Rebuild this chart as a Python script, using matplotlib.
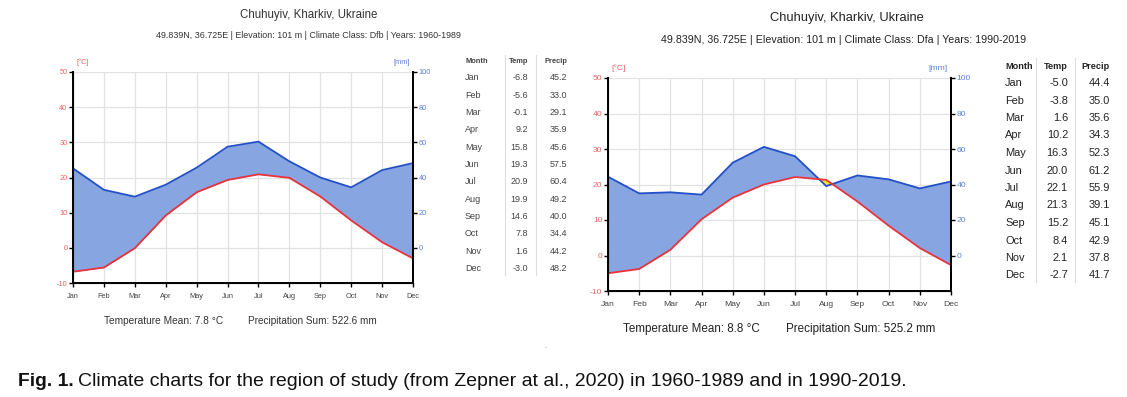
import numpy as np
import matplotlib
matplotlib.use('Agg')
import matplotlib.pyplot as plt

plt.rcParams['font.family'] = ['Liberation Sans', 'DejaVu Sans']
plt.rcParams['axes.unicode_minus'] = False

months = ['Jan', 'Feb', 'Mar', 'Apr', 'May', 'Jun', 'Jul', 'Aug', 'Sep', 'Oct', 'Nov', 'Dec']
temp_1960 = [-6.8, -5.6, -0.1, 9.2, 15.8, 19.3, 20.9, 19.9, 14.6, 7.8, 1.6, -3.0]
precip_1960 = [45.2, 33.0, 29.1, 35.9, 45.6, 57.5, 60.4, 49.2, 40.0, 34.4, 44.2, 48.2]
temp_1990 = [-5.0, -3.8, 1.6, 10.2, 16.3, 20.0, 22.1, 21.3, 15.2, 8.4, 2.1, -2.7]
precip_1990 = [44.4, 35.0, 35.6, 34.3, 52.3, 61.2, 55.9, 39.1, 45.1, 42.9, 37.8, 41.7]

W, H = 1127, 397
FILL_BLUE = '#86a5e1'
LINE_BLUE = '#2350c6'
LINE_RED = '#e8323c'
TICK_RED = '#ec6464'
TICK_BLUE = '#5a80d8'


def px(x, y):
    return x / W, 1 - y / H


def climate_chart(fig, box, temp, precip, s):
    # box = (left, top, right, bottom) in pixels; s = font scale
    l, t, r, b = box
    ax = fig.add_axes([l / W, 1 - b / H, (r - l) / W, (b - t) / H])
    x = np.arange(12)
    temp = np.array(temp)
    p2 = np.array(precip) / 2.0   # 0..100 mm drawn on the 0..50 °C scale
    ax.fill_between(x, temp, p2, where=p2 >= temp, interpolate=True, color=FILL_BLUE, lw=0)
    ax.fill_between(x, temp, p2, where=p2 < temp, interpolate=True, color='#f2e02c', lw=0)
    ax.plot(x, p2, color=LINE_BLUE, lw=1.3, zorder=3)
    ax.plot(x, temp, color=LINE_RED, lw=1.3, zorder=3)
    ax.set_xlim(0, 11)
    ax.set_ylim(-10, 50)
    ax.set_xticks(x)
    ax.set_xticklabels(months, fontsize=5.3 * s, color='#444444')
    ax.set_yticks(range(-10, 51, 10))
    ax.tick_params(axis='y', labelsize=5.3 * s, labelcolor=TICK_RED, length=3, width=1, pad=1)
    ax.tick_params(axis='x', length=3, width=1, pad=4)
    ax.grid(True, color='#e2e2e2', lw=0.9)
    ax.set_axisbelow(True)
    for sp in ['left', 'right', 'bottom']:
        ax.spines[sp].set_linewidth(1.4)
    ax.spines['top'].set_visible(False)
    ax2 = ax.twinx()
    ax2.set_ylim(-20, 100)
    ax2.set_yticks(range(0, 101, 20))
    ax2.tick_params(axis='y', labelsize=5.3 * s, labelcolor=TICK_BLUE, length=3, width=1, pad=1)
    ax2.spines['right'].set_linewidth(1.4)
    ax2.spines['top'].set_visible(False)
    ax.text(0.01, 1.03, '[°C]', transform=ax.transAxes, fontsize=5.3 * s, color=TICK_RED, ha='left', va='bottom')
    ax.text(0.99, 1.03, '[mm]', transform=ax.transAxes, fontsize=5.3 * s, color=TICK_BLUE, ha='right', va='bottom')
    return ax


fig = plt.figure(figsize=(W / 100, H / 100), dpi=100)

# left chart (1960-1989)
climate_chart(fig, (73, 72, 413, 283), temp_1960, precip_1960, 1.0)
fig.text(*px(309, 15), 'Chuhuyiv, Kharkiv, Ukraine', fontsize=8.3, color='#333333', ha='center', va='center')
fig.text(*px(308, 36), '49.839N, 36.725E | Elevation: 101 m | Climate Class: Dfb | Years: 1960-1989',
         fontsize=6.4, color='#333333', ha='center', va='center')
fig.text(*px(164, 321), 'Temperature Mean: 7.8 °C', fontsize=7.3, color='#333333', ha='center', va='center')
fig.text(*px(312, 321), 'Precipitation Sum: 522.6 mm', fontsize=7.2, color='#333333', ha='center', va='center')

# right chart (1990-2019)
climate_chart(fig, (608, 78, 951, 291), temp_1990, precip_1990, 1.15)
fig.text(*px(847, 18), 'Chuhuyiv, Kharkiv, Ukraine', fontsize=9.3, color='#222222', ha='center', va='center')
fig.text(*px(844, 40), '49.839N, 36.725E | Elevation: 101 m | Climate Class: Dfa | Years: 1990-2019',
         fontsize=7.7, color='#222222', ha='center', va='center')
fig.text(*px(691, 329), 'Temperature Mean: 8.8 °C', fontsize=8.4, color='#222222', ha='center', va='center')
fig.text(*px(861, 329), 'Precipitation Sum: 525.2 mm', fontsize=8.4, color='#222222', ha='center', va='center')


def table(tab_t, tab_p, x_month, x_temp, x_prec, y0, dy, seps, sep_y, fs, hfs, col):
    fig.text(*px(x_month, y0 - dy * 0.95), 'Month', fontsize=hfs, weight='bold', color=col, ha='left', va='center')
    fig.text(*px(x_temp, y0 - dy * 0.95), 'Temp', fontsize=hfs, weight='bold', color=col, ha='right', va='center')
    fig.text(*px(x_prec, y0 - dy * 0.95), 'Precip', fontsize=hfs, weight='bold', color=col, ha='right', va='center')
    for sx in seps:
        fig.add_artist(plt.Line2D([sx / W, sx / W], [1 - sep_y[0] / H, 1 - sep_y[1] / H],
                                  color='#dddddd', lw=0.8))
    for i, m in enumerate(months):
        y = y0 + i * dy
        fig.text(*px(x_month, y), m, fontsize=fs, color=col, ha='left', va='center')
        fig.text(*px(x_temp, y), f'{tab_t[i]:.1f}', fontsize=fs, color=col, ha='right', va='center')
        fig.text(*px(x_prec, y), f'{tab_p[i]:.1f}', fontsize=fs, color=col, ha='right', va='center')


table(temp_1960, precip_1960, 465, 528, 567, 78, 17.3, [505, 536], (55, 275), 6.5, 5.4, '#444444')
table(temp_1990, precip_1990, 1005, 1068, 1110, 83, 17.5, [1036, 1075], (58, 282), 7.9, 6.6, '#222222')

fig.text(*px(545, 347), '.', fontsize=6, color='#777777', ha='center', va='center')

# caption
fig.text(*px(18, 381), 'Fig. 1.', fontsize=13.9, weight='bold', color='#111111', ha='left', va='center')
fig.text(*px(78, 381), 'Climate charts for the region of study (from Zepner at al., 2020) in 1960-1989 and in 1990-2019.',
         fontsize=14.0, color='#111111', ha='left', va='center')

fig.savefig('out.png', dpi=100)
